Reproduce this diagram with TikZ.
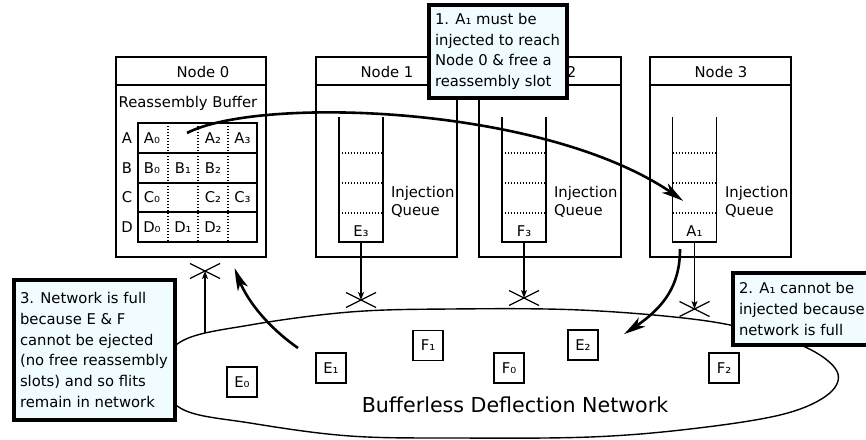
\documentclass[tikz,border=0pt]{standalone}
\usepackage{fontspec}
\setmainfont{DejaVu Sans}
\usetikzlibrary{arrows.meta,shapes.misc,bending,calc}
\definecolor{notefill}{RGB}{240,252,255}
\begin{document}
\begin{tikzpicture}[x=1pt,y=-1pt,
  every node/.style={font=\fontsize{14.8}{17}\selectfont, inner sep=0pt, outer sep=0pt},
  frame/.style={line width=1.2pt},
  nodebox/.style={draw, line width=1.2pt, minimum width=#1, minimum height=200},
  qbox/.style={minimum width=44, minimum height=125},
  dotline/.style={line width=1.1pt, dash pattern=on 1pt off 2pt},
  flit/.style={draw, line width=1.2pt, minimum width=30, minimum height=30},
  blocked/.style={draw, cross out, line width=1.2pt, minimum width=30, minimum height=15},
  feed/.style={line width=1.2pt, -{Stealth[length=8pt, width=6pt, inset=2pt]}},
  bigarrow/.style={line width=2.6pt, -{Stealth[length=22pt, width=11pt, inset=6pt, bend]}},
  callout/.style={draw, line width=4pt, fill=notefill},
  notetext/.style={align=left, font=\fontsize{14.8}{20.8}\selectfont},
  qlabel/.style={align=left, font=\fontsize{14.8}{18}\selectfont, anchor=west}
]
\useasboundingbox (0,0) rectangle (866,439);
\clip (0,0) rectangle (866,439);

% ---- the four network nodes ----
\node[nodebox=150] (n0) at (191,157) {};
\node[nodebox=141] (n1) at (386.5,157) {};
\node[nodebox=142] (n2) at (550,157) {};
\node[nodebox=141] (n3) at (720.5,157) {};
\foreach \n in {n0,n1,n2,n3}
  \draw[frame] ($(\n.north west)+(0,28)$) -- ($(\n.north east)+(0,28)$);
\node (n0t) at (203,72) {Node 0};
\node (n1t) at (387,72) {Node 1};
\node (n2t) at (550,72) {Node 2};
\node (n3t) at (721,72) {Node 3};

% ---- reassembly buffer of node 0 ----
\node (rbt) at (188,103) {Reassembly Buffer};
\node[minimum width=119, minimum height=119] (grid) at (197.5,182.5) {};
\foreach \x in {168,198,228}
  \draw[dotline] (\x,123) -- (\x,242);
\foreach \y in {153,183,212}
  \draw[frame] (138,\y) -- (257,\y);
\draw[line width=1.6pt] (grid.north west) rectangle (grid.south east);
\foreach \r/\y in {A/138,B/168,C/197.5,D/227}
  \node (row\r) at (127,\y) {\r};
\foreach \t/\x/\y in {A₀/152/138, A₂/213/138, A₃/242.5/138,
                      B₀/152/168, B₁/183/168, B₂/213/168,
                      C₀/152/197.5, C₂/213/197.5, C₃/242.5/197.5,
                      D₀/152/227, D₁/183/227, D₂/213/227}
  \node at (\x,\y) {\t};

% ---- injection queues ----
\foreach \q/\cx/\lab/\lx in {q1/361/E₃/391, q2/524/F₃/554, q3/694.5/A₁/725} {
  \node[qbox] (\q) at (\cx,179.5) {};
  \draw[frame] (\q.north west) -- (\q.south west) -- (\q.south east) -- (\q.north east);
  \foreach \y in {153,183,213}
    \draw[dotline] (\cx-22,\y) -- (\cx+22,\y);
  \node (\q l) at (\cx,231) {\lab};
  \node[qlabel] (\q t) at (\lx,202) {Injection\\Queue};
}

% ---- the network ----
\draw[line width=1.4pt] plot[smooth cycle, tension=0.6] coordinates {
  (160,375) (182,341) (250,325) (350,312) (450,309) (580,310) (700,320)
  (770,335) (815,352) (838,374) (826,396) (780,415) (690,429) (590,437)
  (460,438) (350,436) (250,423) (182,409)};
\node[font=\fontsize{20.6}{23}\selectfont] (net) at (515,405) {Bufferless Deflection Network};

\node[flit] (E0) at (242,382) {E₀};
\node[flit] (E1) at (331,368) {E₁};
\node[flit] (F1) at (428,345.5) {F₁};
\node[flit] (F0) at (509,368) {F₀};
\node[flit] (E2) at (583,345) {E₂};
\node[flit] (F2) at (724,368) {F₂};

% ---- blocked ejection / injection paths ----
\node[blocked] (x0) at (205,271) {};
\node[blocked] (x1) at (361,300) {};
\node[blocked] (x2) at (524,298) {};
\node[blocked] (x3) at (694.5,309) {};
\coordinate (ej0) at (205,333);
\draw[feed] (ej0) -- (x0.center);
\draw[feed] (q1.south) -- (x1.center);
\draw[feed] (q2.south) -- (x2.center);
\draw[feed] (q3.south) -- (x3.center);

% ---- dependency arrows ----
\coordinate (a1s) at (187,133);
\coordinate (a1e) at (683,201);
\coordinate (a2s) at (680,249);
\coordinate (a2e) at (624,334);
\coordinate (a3s) at (298,348);
\coordinate (a3e) at (235,268);
\draw[bigarrow] (a1s) .. controls (260,95) and (560,105) .. (a1e);
\draw[bigarrow] (a2s) .. controls (680,290) and (660,312) .. (a2e);
\draw[bigarrow] (a3s) .. controls (272,330) and (243,300) .. (a3e);

% ---- notes ----
\node[callout, minimum width=138, minimum height=93, anchor=north west] (c1) at (429,5) {};
\node[notetext, anchor=west] (c1t) at ($(c1.west)+(6,0)$)
  {1. A₁ must be\\injected to reach\\Node 0 \& free a\\reassembly slot};
\node[callout, minimum width=160, minimum height=72, anchor=north west] (c2) at (733,273) {};
\node[notetext, anchor=west] (c2t) at ($(c2.west)+(6,0)$)
  {2. A₁ cannot be\\injected because\\network is full};
\node[callout, minimum width=161, minimum height=140, anchor=north west] (c3) at (14,280) {};
\node[notetext, anchor=west] (c3t) at ($(c3.west)+(6,0)$)
  {3. Network is full\\because E \& F\\cannot be ejected\\(no free reassembly\\slots) and so flits\\remain in network};
\end{tikzpicture}
\end{document}
